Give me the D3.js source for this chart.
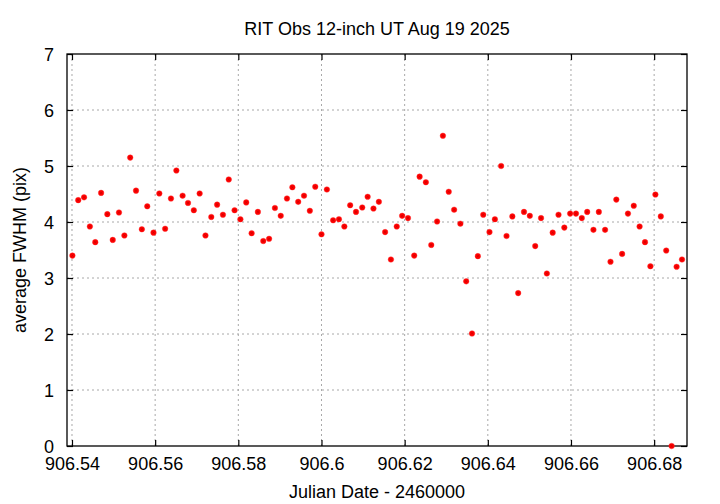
<!DOCTYPE html>
<html>
<head>
<meta charset="utf-8">
<script src="https://cdn.jsdelivr.net/npm/d3@7"></script>
<style>
  html, body { margin: 0; padding: 0; background: #fff; }
  svg text { font-family: "Liberation Sans", Arial, Helvetica, sans-serif; fill: #000; }
</style>
</head>
<body>
<div id="chart"></div>
<script>
// ---- data ----
const title = "RIT Obs 12-inch UT Aug 19 2025";
const xLabel = "Julian Date - 2460000";
const yLabel = "average FWHM (pix)";

const jd = [
  906.5401, 906.5415, 906.5429, 906.5443, 906.5456, 906.5470, 906.5485, 906.5498, 906.5513, 906.5526,
  906.5540, 906.5554, 906.5568, 906.5581, 906.5596, 906.5610, 906.5624, 906.5638, 906.5651, 906.5666,
  906.5679, 906.5693, 906.5707, 906.5721, 906.5735, 906.5749, 906.5763, 906.5777, 906.5791, 906.5805,
  906.5819, 906.5832, 906.5847, 906.5860, 906.5874, 906.5888, 906.5902, 906.5917, 906.5930, 906.5944,
  906.5958, 906.5972, 906.5985, 906.6000, 906.6013, 906.6028, 906.6042, 906.6055, 906.6069, 906.6083,
  906.6098, 906.6111, 906.6125, 906.6138, 906.6153, 906.6167, 906.6181, 906.6194, 906.6208, 906.6223,
  906.6236, 906.6251, 906.6264, 906.6278, 906.6292, 906.6306, 906.6319, 906.6334, 906.6348, 906.6362,
  906.6376, 906.6389, 906.6404, 906.6417, 906.6432, 906.6445, 906.6459, 906.6473, 906.6487, 906.6501,
  906.6514, 906.6528, 906.6542, 906.6556, 906.6570, 906.6584, 906.6598, 906.6612, 906.6626, 906.6639,
  906.6654, 906.6667, 906.6682, 906.6695, 906.6709, 906.6723, 906.6737, 906.6751, 906.6765, 906.6778,
  906.6791, 906.6803, 906.6816, 906.6829, 906.6842, 906.6854, 906.6867
];
const fwhm = [
  3.40, 4.39, 4.44, 3.92, 3.64, 4.52, 4.14, 3.68, 4.17, 3.76,
  5.15, 4.56, 3.87, 4.28, 3.81, 4.51, 3.88, 4.42, 4.92, 4.47,
  4.34, 4.21, 4.51, 3.76, 4.09, 4.31, 4.13, 4.76, 4.21, 4.05,
  4.35, 3.80, 4.18, 3.66, 3.70, 4.25, 4.11, 4.42, 4.62, 4.36,
  4.47, 4.20, 4.63, 3.78, 4.58, 4.03, 4.05, 3.92, 4.30, 4.18,
  4.26, 4.45, 4.24, 4.36, 3.82, 3.33, 3.92, 4.11, 4.07, 3.40,
  4.81, 4.71, 3.59, 4.01, 5.54, 4.54, 4.22, 3.97, 2.94, 2.01,
  3.39, 4.13, 3.82, 4.05, 5.00, 3.75, 4.10, 2.73, 4.18, 4.11,
  3.57, 4.07, 3.08, 3.81, 4.13, 3.90, 4.15, 4.15, 4.07, 4.18,
  3.86, 4.18, 3.86, 3.29, 4.40, 3.43, 4.15, 4.29, 3.92, 3.64,
  3.21, 4.49, 4.10, 3.49, 0.00, 3.20, 3.33
];
const xTicks = [906.54, 906.56, 906.58, 906.60, 906.62, 906.64, 906.66, 906.68];
const xTickLabels = ["906.54", "906.56", "906.58", "906.6", "906.62", "906.64", "906.66", "906.68"];
const yTicks = [0, 1, 2, 3, 4, 5, 6, 7];
const xDomain = [906.5388, 906.6879];
const yDomain = [0, 7];

// ---- layout ----
const W = 720, H = 504;
const plot = { left: 67, right: 687, top: 54, bottom: 446 };

const svg = d3.select("#chart").append("svg")
  .attr("width", W).attr("height", H)
  .attr("viewBox", `0 0 ${W} ${H}`);

const x = d3.scaleLinear().domain(xDomain).range([plot.left, plot.right]);
const y = d3.scaleLinear().domain(yDomain).range([plot.bottom, plot.top]);

// grid
const grid = svg.append("g").attr("stroke", "#a8a8a8").attr("stroke-width", 1)
  .attr("stroke-dasharray", "2,3").attr("fill", "none");
xTicks.forEach(t => {
  grid.append("line").attr("x1", x(t)).attr("x2", x(t))
    .attr("y1", plot.top).attr("y2", plot.bottom);
});
yTicks.forEach(t => {
  if (t === 0 || t === 7) return;
  grid.append("line").attr("x1", plot.left).attr("x2", plot.right)
    .attr("y1", y(t)).attr("y2", y(t));
});

// axes via d3 (inward ticks, mirrored)
const tickLen = 6;
const fmtX = (d) => xTickLabels[xTicks.indexOf(d)];

const gx = svg.append("g").attr("transform", `translate(0,${plot.bottom})`)
  .call(d3.axisBottom(x).tickValues(xTicks).tickFormat(fmtX).tickSizeInner(-tickLen).tickSizeOuter(0).tickPadding(16));
const gxTop = svg.append("g").attr("transform", `translate(0,${plot.top})`)
  .call(d3.axisTop(x).tickValues(xTicks).tickFormat("").tickSizeInner(-tickLen).tickSizeOuter(0));
const gy = svg.append("g").attr("transform", `translate(${plot.left},0)`)
  .call(d3.axisLeft(y).tickValues(yTicks).tickFormat(d3.format("d")).tickSizeInner(-tickLen).tickSizeOuter(0).tickPadding(18));
const gyR = svg.append("g").attr("transform", `translate(${plot.right},0)`)
  .call(d3.axisRight(y).tickValues(yTicks).tickFormat("").tickSizeInner(-tickLen).tickSizeOuter(0));

[gx, gxTop, gy, gyR].forEach(g => {
  g.select(".domain").remove();
  g.selectAll(".tick line").attr("stroke", "#000").attr("stroke-width", 1.2);
  g.selectAll("text").attr("font-size", 18).attr("font-family", "'Liberation Sans', Arial, sans-serif").attr("fill", "#000");
});
gx.selectAll("text").attr("dy", null).attr("y", 24);
gy.selectAll("text").attr("dy", "0.36em").attr("x", -13);

// border
svg.append("rect")
  .attr("x", plot.left).attr("y", plot.top)
  .attr("width", plot.right - plot.left).attr("height", plot.bottom - plot.top)
  .attr("fill", "none").attr("stroke", "#000").attr("stroke-width", 1.3);

// points
const pts = svg.append("g");
jd.forEach((d, i) => {
  const cx = x(d), cy = y(fwhm[i]);
  pts.append("circle").attr("cx", cx).attr("cy", cy).attr("r", 2.8)
    .attr("fill", "#ff0000").attr("stroke", "#ff3030").attr("stroke-width", 0.4);
  pts.append("path")
    .attr("d", `M${cx - 1.2},${cy - 1.2}L${cx + 1.2},${cy + 1.2}M${cx - 1.2},${cy + 1.2}L${cx + 1.2},${cy - 1.2}`)
    .attr("stroke", "#c00000").attr("stroke-width", 0.6);
});

// titles
svg.append("text").attr("x", (plot.left + plot.right) / 2).attr("y", 35)
  .attr("text-anchor", "middle").attr("font-size", 18).text(title);
svg.append("text").attr("x", (plot.left + plot.right) / 2).attr("y", 498)
  .attr("text-anchor", "middle").attr("font-size", 18).text(xLabel);
svg.append("text")
  .attr("transform", `translate(26,${(plot.top + plot.bottom) / 2}) rotate(-90)`)
  .attr("text-anchor", "middle").attr("font-size", 18).text(yLabel);
</script>
</body>
</html>
